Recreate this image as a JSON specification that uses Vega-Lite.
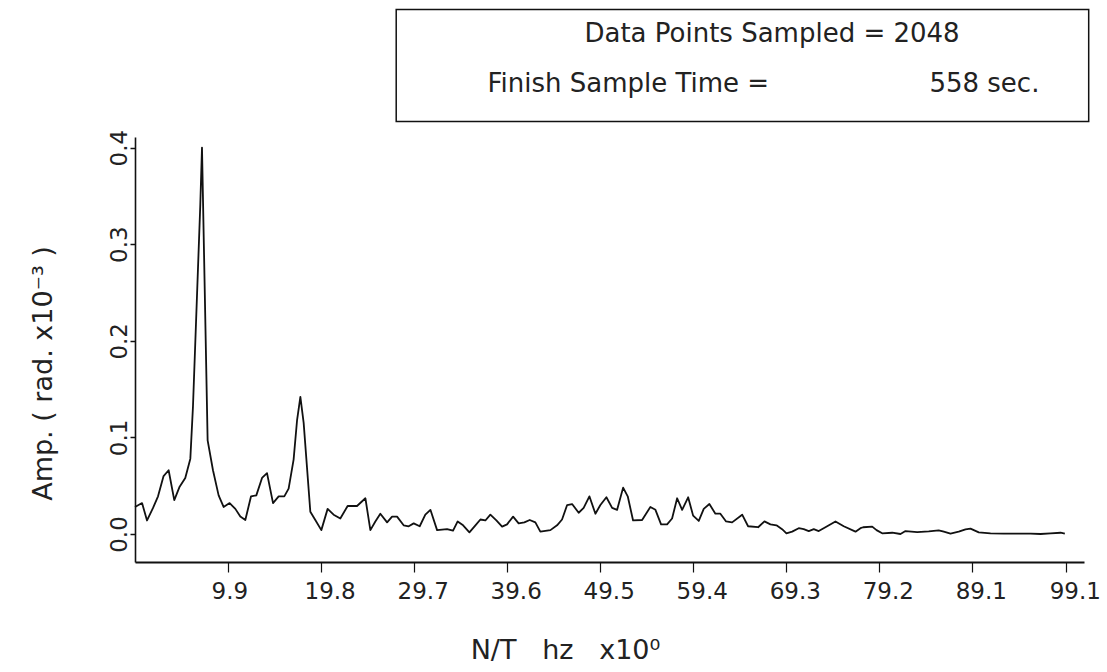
{
  "$schema": "https://vega.github.io/schema/vega-lite/v6.json",
  "width": 949,
  "height": 425,
  "autosize": {"type": "none"},
  "padding": {"left": 135, "top": 137, "right": 23, "bottom": 110},
  "background": "white",
  "config": {"view": {"stroke": null}, "font": "DejaVu Sans"},
  "datasets": {
    "spectrum": [
      {"f": 0, "amp": 0.028}, {"f": 0.75, "amp": 0.032}, {"f": 1.28, "amp": 0.014}, {"f": 1.92, "amp": 0.027},
      {"f": 2.45, "amp": 0.039}, {"f": 3.04, "amp": 0.06}, {"f": 3.58, "amp": 0.066}, {"f": 4.18, "amp": 0.035},
      {"f": 4.75, "amp": 0.049}, {"f": 5.35, "amp": 0.058}, {"f": 5.89, "amp": 0.078}, {"f": 6.17, "amp": 0.132},
      {"f": 6.95, "amp": 0.341}, {"f": 7.13, "amp": 0.4}, {"f": 7.73, "amp": 0.097}, {"f": 8.3, "amp": 0.066},
      {"f": 8.9, "amp": 0.04}, {"f": 9.43, "amp": 0.028}, {"f": 10.07, "amp": 0.032}, {"f": 10.68, "amp": 0.026},
      {"f": 11.21, "amp": 0.018}, {"f": 11.74, "amp": 0.0145}, {"f": 12.35, "amp": 0.039}, {"f": 12.91, "amp": 0.04},
      {"f": 13.52, "amp": 0.058}, {"f": 14.05, "amp": 0.063}, {"f": 14.69, "amp": 0.032}, {"f": 15.29, "amp": 0.039},
      {"f": 15.89, "amp": 0.039}, {"f": 16.35, "amp": 0.047}, {"f": 16.88, "amp": 0.077}, {"f": 17.25, "amp": 0.118},
      {"f": 17.6, "amp": 0.142}, {"f": 17.95, "amp": 0.115}, {"f": 18.66, "amp": 0.023}, {"f": 19.19, "amp": 0.0145},
      {"f": 19.83, "amp": 0.004}, {"f": 20.5, "amp": 0.026}, {"f": 21.14, "amp": 0.02}, {"f": 21.85, "amp": 0.016},
      {"f": 22.63, "amp": 0.029}, {"f": 23.63, "amp": 0.029}, {"f": 24.52, "amp": 0.037}, {"f": 25.05, "amp": 0.004},
      {"f": 25.58, "amp": 0.013}, {"f": 26.11, "amp": 0.021}, {"f": 26.83, "amp": 0.012}, {"f": 27.36, "amp": 0.018},
      {"f": 27.89, "amp": 0.018}, {"f": 28.59, "amp": 0.009}, {"f": 29.13, "amp": 0.008}, {"f": 29.66, "amp": 0.011},
      {"f": 30.3, "amp": 0.008}, {"f": 30.9, "amp": 0.02}, {"f": 31.44, "amp": 0.025}, {"f": 32.15, "amp": 0.004},
      {"f": 33.21, "amp": 0.005}, {"f": 33.85, "amp": 0.0034}, {"f": 34.34, "amp": 0.013}, {"f": 34.92, "amp": 0.009},
      {"f": 35.59, "amp": 0.0017}, {"f": 36.23, "amp": 0.009}, {"f": 36.76, "amp": 0.015}, {"f": 37.29, "amp": 0.014},
      {"f": 37.82, "amp": 0.02}, {"f": 38.46, "amp": 0.014}, {"f": 39.07, "amp": 0.0076}, {"f": 39.6, "amp": 0.01},
      {"f": 40.24, "amp": 0.018}, {"f": 40.83, "amp": 0.011}, {"f": 41.44, "amp": 0.012}, {"f": 42.01, "amp": 0.0145},
      {"f": 42.61, "amp": 0.012}, {"f": 43.14, "amp": 0.0024}, {"f": 44.21, "amp": 0.004}, {"f": 44.92, "amp": 0.009},
      {"f": 45.45, "amp": 0.015}, {"f": 45.99, "amp": 0.03}, {"f": 46.52, "amp": 0.031}, {"f": 47.22, "amp": 0.022},
      {"f": 47.75, "amp": 0.027}, {"f": 48.36, "amp": 0.039}, {"f": 49.0, "amp": 0.021}, {"f": 49.53, "amp": 0.03},
      {"f": 50.17, "amp": 0.038}, {"f": 50.78, "amp": 0.027}, {"f": 51.31, "amp": 0.025}, {"f": 51.95, "amp": 0.048},
      {"f": 52.44, "amp": 0.039}, {"f": 53.01, "amp": 0.014}, {"f": 53.97, "amp": 0.0145}, {"f": 54.85, "amp": 0.028},
      {"f": 55.39, "amp": 0.025}, {"f": 55.99, "amp": 0.01}, {"f": 56.63, "amp": 0.01}, {"f": 57.16, "amp": 0.016},
      {"f": 57.7, "amp": 0.037}, {"f": 58.23, "amp": 0.025}, {"f": 58.87, "amp": 0.038}, {"f": 59.4, "amp": 0.019},
      {"f": 60.0, "amp": 0.0135}, {"f": 60.53, "amp": 0.026}, {"f": 61.13, "amp": 0.031}, {"f": 61.77, "amp": 0.021},
      {"f": 62.3, "amp": 0.021}, {"f": 62.91, "amp": 0.013}, {"f": 63.55, "amp": 0.012}, {"f": 64.62, "amp": 0.02},
      {"f": 65.25, "amp": 0.008}, {"f": 66.32, "amp": 0.007}, {"f": 66.99, "amp": 0.013}, {"f": 67.63, "amp": 0.01},
      {"f": 68.27, "amp": 0.009}, {"f": 68.87, "amp": 0.005}, {"f": 69.33, "amp": 0.0007}, {"f": 69.94, "amp": 0.0024},
      {"f": 70.64, "amp": 0.006}, {"f": 71.17, "amp": 0.005}, {"f": 71.71, "amp": 0.003}, {"f": 72.24, "amp": 0.005},
      {"f": 72.77, "amp": 0.003}, {"f": 73.48, "amp": 0.007}, {"f": 74.55, "amp": 0.013}, {"f": 75.43, "amp": 0.008},
      {"f": 76.68, "amp": 0.0024}, {"f": 77.21, "amp": 0.006}, {"f": 77.5, "amp": 0.007}, {"f": 78.46, "amp": 0.0076},
      {"f": 78.92, "amp": 0.004}, {"f": 79.52, "amp": 0.0007}, {"f": 80.59, "amp": 0.0013}, {"f": 81.47, "amp": 0.0},
      {"f": 82.0, "amp": 0.003}, {"f": 83.25, "amp": 0.002}, {"f": 84.48, "amp": 0.0028}, {"f": 85.54, "amp": 0.0038},
      {"f": 86.08, "amp": 0.0024}, {"f": 86.79, "amp": 0.0003}, {"f": 87.67, "amp": 0.0024}, {"f": 88.39, "amp": 0.0048},
      {"f": 88.92, "amp": 0.0055}, {"f": 89.8, "amp": 0.0017}, {"f": 91.05, "amp": 0.0007}, {"f": 92.46, "amp": 0.0003},
      {"f": 93.89, "amp": 0.0003}, {"f": 95.31, "amp": 0.0003}, {"f": 96.38, "amp": 0.0}, {"f": 97.44, "amp": 0.0007},
      {"f": 98.51, "amp": 0.0013}, {"f": 98.96, "amp": 0.0003}
    ],
    "frame": [{"f": 27.8, "f2": 101.5, "amp": 0.427, "amp2": 0.543}],
    "note": [
      {"f": 67.8, "amp": 0.518, "label": "Data Points Sampled = 2048"},
      {"f": 52.5, "amp": 0.466, "label": "Finish Sample Time ="},
      {"f": 90.4, "amp": 0.466, "label": "558 sec."}
    ]
  },
  "layer": [
    {
      "data": {"name": "spectrum"},
      "mark": {"type": "line", "color": "#111", "strokeWidth": 1.8, "strokeJoin": "round"},
      "encoding": {
        "x": {
          "field": "f",
          "type": "quantitative",
          "scale": {"domain": [0, 101], "nice": false, "zero": false},
          "axis": {
            "values": [9.9, 19.8, 29.7, 39.6, 49.5, 59.4, 69.3, 79.2, 89.1, 99.1],
            "format": ".1f",
            "grid": false,
            "title": "N/T\u00a0\u00a0\u00a0hz\u00a0\u00a0\u00a0x10⁰",
            "titleX": 430,
            "titleY": 96,
            "titleAlign": "center",
            "titleBaseline": "alphabetic",
            "titleFont": "DejaVu Sans",
            "titleFontSize": 27,
            "titleFontWeight": "normal",
            "titleColor": "#222",
            "labelFont": "DejaVu Sans",
            "labelFontSize": 23,
            "labelColor": "#222",
            "labelAlign": "left",
            "labelBaseline": "top",
            "labelOffset": -17,
            "labelPadding": 8,
            "labelFlush": false,
            "labelOverlap": false,
            "tickSize": 10,
            "tickColor": "#111",
            "tickWidth": 1.2,
            "domainColor": "#111",
            "domainWidth": 2
          }
        },
        "y": {
          "field": "amp",
          "type": "quantitative",
          "scale": {"domain": [-0.029, 0.411], "nice": false, "zero": false},
          "axis": {
            "values": [0, 0.1, 0.2, 0.3, 0.4],
            "format": ".1f",
            "grid": false,
            "title": "Amp. ( rad. x10⁻³ )",
            "titleX": -92,
            "titleY": 236,
            "titleAngle": 270,
            "titleAlign": "center",
            "titleBaseline": "middle",
            "titleFont": "DejaVu Sans",
            "titleFontSize": 27,
            "titleFontWeight": "normal",
            "titleColor": "#222",
            "labelFont": "DejaVu Sans",
            "labelFontSize": 23,
            "labelColor": "#222",
            "labelAngle": 270,
            "labelAlign": "center",
            "labelBaseline": "alphabetic",
            "labelPadding": 4,
            "labelFlush": false,
            "labelOverlap": false,
            "tickSize": 5,
            "tickColor": "#111",
            "tickWidth": 1.5,
            "domainColor": "#111",
            "domainWidth": 1.6
          }
        }
      }
    },
    {
      "data": {"name": "frame"},
      "mark": {"type": "rect", "fill": "white", "fillOpacity": 0, "stroke": "#111", "strokeWidth": 1.5},
      "encoding": {
        "x": {"field": "f", "type": "quantitative"},
        "x2": {"field": "f2"},
        "y": {"field": "amp", "type": "quantitative"},
        "y2": {"field": "amp2"}
      }
    },
    {
      "data": {"name": "note"},
      "mark": {"type": "text", "font": "DejaVu Sans", "fontSize": 26, "color": "#222", "align": "center", "baseline": "middle"},
      "encoding": {
        "x": {"field": "f", "type": "quantitative"},
        "y": {"field": "amp", "type": "quantitative"},
        "text": {"field": "label"}
      }
    }
  ]
}
